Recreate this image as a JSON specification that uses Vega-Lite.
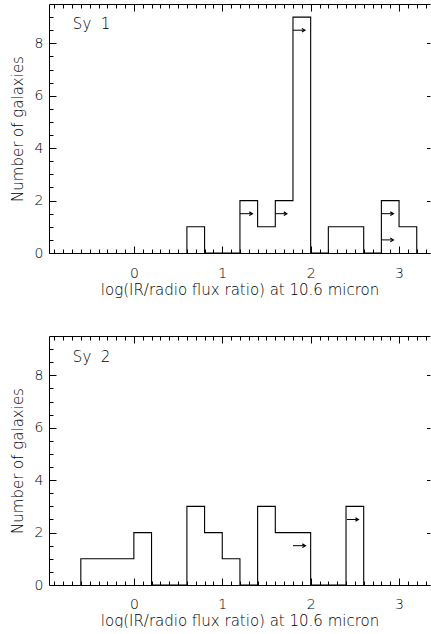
{
  "$schema": "https://vega.github.io/schema/vega-lite/v6.json",
  "padding": {"left": 10, "top": 3, "right": 0, "bottom": 0},
  "spacing": 83,
  "bounds": "flush",
  "datasets": {
    "hist1": [
      {"i": 0, "x": 0.6, "n": 0}, {"i": 1, "x": 0.6, "n": 1}, {"i": 2, "x": 0.8, "n": 0},
      {"i": 3, "x": 1.2, "n": 2}, {"i": 4, "x": 1.4, "n": 1}, {"i": 5, "x": 1.6, "n": 2},
      {"i": 6, "x": 1.8, "n": 9}, {"i": 7, "x": 2.0, "n": 0}, {"i": 8, "x": 2.2, "n": 1},
      {"i": 9, "x": 2.6, "n": 0}, {"i": 10, "x": 2.8, "n": 2}, {"i": 11, "x": 3.0, "n": 1},
      {"i": 12, "x": 3.2, "n": 0}
    ],
    "hist2": [
      {"i": 0, "x": -0.6, "n": 0}, {"i": 1, "x": -0.6, "n": 1}, {"i": 2, "x": 0.0, "n": 2},
      {"i": 3, "x": 0.2, "n": 0}, {"i": 4, "x": 0.6, "n": 3}, {"i": 5, "x": 0.8, "n": 2},
      {"i": 6, "x": 1.0, "n": 1}, {"i": 7, "x": 1.2, "n": 0}, {"i": 8, "x": 1.4, "n": 3},
      {"i": 9, "x": 1.6, "n": 2}, {"i": 10, "x": 2.0, "n": 0}, {"i": 11, "x": 2.4, "n": 3},
      {"i": 12, "x": 2.6, "n": 0}
    ],
    "arr1": [
      {"x": 1.2, "x2": 1.34, "y": 1.5}, {"x": 1.6, "x2": 1.73, "y": 1.5},
      {"x": 1.8, "x2": 1.935, "y": 8.5}, {"x": 2.8, "x2": 2.935, "y": 1.5},
      {"x": 2.8, "x2": 2.935, "y": 0.5}
    ],
    "arr2": [
      {"x": 1.8, "x2": 1.94, "y": 1.5}, {"x": 2.41, "x2": 2.54, "y": 2.5}
    ],
    "lab1": [{"label": "Sy\u00a0\u00a01", "x": -0.69, "y": 8.55}],
    "lab2": [{"label": "Sy\u00a0\u00a02", "x": -0.69, "y": 8.5}]
  },
  "vconcat": [
    {
      "width": 381, "height": 249,
      "layer": [
        {
          "data": {"name": "hist1"},
          "mark": {"type": "line", "interpolate": "step-after", "color": "black", "strokeWidth": 1.1},
          "encoding": {
            "order": {"field": "i", "type": "quantitative"},
            "x": {"field": "x", "type": "quantitative", "scale": {"domain": [-0.96, 3.35], "nice": false, "zero": false},
                  "axis": {"orient": "bottom", "values": [0, 1, 2, 3], "format": "d", "tickSize": -7, "labelPadding": 20, "title": "log(IR/radio flux ratio) at 10.6 micron", "titlePadding": 2}},
            "y": {"field": "n", "type": "quantitative", "scale": {"domain": [0, 9.5], "nice": false},
                  "axis": {"orient": "left", "values": [0, 2, 4, 6, 8], "format": "d", "tickSize": -7, "labelPadding": 13, "title": "Number of galaxies", "titlePadding": 9}}
          }
        },
        {
          "data": {"name": "hist1"},
          "mark": {"type": "line", "opacity": 0},
          "encoding": {
            "x": {"field": "x", "type": "quantitative", "axis": {"orient": "bottom", "values": [-0.9,-0.8,-0.7,-0.6,-0.5,-0.4,-0.3,-0.2,-0.1,0.1,0.2,0.3,0.4,0.5,0.6,0.7,0.8,0.9,1.1,1.2,1.3,1.4,1.5,1.6,1.7,1.8,1.9,2.1,2.2,2.3,2.4,2.5,2.6,2.7,2.8,2.9,3.1,3.2,3.3], "tickSize": -4, "labels": false, "domain": false, "title": null}},
            "y": {"field": "n", "type": "quantitative", "axis": {"orient": "left", "values": [0.5,1,1.5,2.5,3,3.5,4.5,5,5.5,6.5,7,7.5,8.5,9], "tickSize": -4, "labels": false, "domain": false, "title": null}}
          }
        },
        {
          "data": {"name": "hist1"},
          "mark": {"type": "line", "opacity": 0},
          "encoding": {
            "x": {"field": "x", "type": "quantitative", "axis": {"orient": "top", "values": [0, 1, 2, 3], "tickSize": -7, "labels": false, "title": null}},
            "y": {"field": "n", "type": "quantitative", "axis": {"orient": "right", "values": [0, 2, 4, 6, 8], "tickSize": -3.5, "labels": false, "domain": false, "title": null}}
          }
        },
        {
          "data": {"name": "hist1"},
          "mark": {"type": "line", "opacity": 0},
          "encoding": {
            "x": {"field": "x", "type": "quantitative", "axis": {"orient": "top", "values": [-0.9,-0.8,-0.7,-0.6,-0.5,-0.4,-0.3,-0.2,-0.1,0.1,0.2,0.3,0.4,0.5,0.6,0.7,0.8,0.9,1.1,1.2,1.3,1.4,1.5,1.6,1.7,1.8,1.9,2.1,2.2,2.3,2.4,2.5,2.6,2.7,2.8,2.9,3.1,3.2,3.3], "tickSize": -4, "labels": false, "domain": false, "title": null}},
            "y": {"field": "n", "type": "quantitative", "axis": null}
          }
        },
        {
          "data": {"name": "arr1"},
          "mark": {"type": "rule", "color": "black", "strokeWidth": 1},
          "encoding": {
            "x": {"field": "x", "type": "quantitative", "axis": null},
            "x2": {"field": "x2"},
            "y": {"field": "y", "type": "quantitative", "axis": null}
          }
        },
        {
          "data": {"name": "arr1"},
          "mark": {"type": "point", "shape": "M-1,-0.6L0,0L-1,0.6", "size": 36, "filled": false, "stroke": "black", "strokeWidth": 1.2, "opacity": 1},
          "encoding": {
            "x": {"field": "x2", "type": "quantitative", "axis": null},
            "y": {"field": "y", "type": "quantitative", "axis": null}
          }
        },
        {
          "data": {"name": "lab1"},
          "mark": {"type": "text", "align": "left", "baseline": "alphabetic", "fontSize": 15, "font": "DejaVu Sans", "fontWeight": 200, "color": "black"},
          "encoding": {
            "x": {"field": "x", "type": "quantitative", "axis": null},
            "y": {"field": "y", "type": "quantitative", "axis": null},
            "text": {"field": "label"}
          }
        }
      ],
      "resolve": {"axis": {"x": "independent", "y": "independent"}}
    },
    {
      "width": 381, "height": 249,
      "layer": [
        {
          "data": {"name": "hist2"},
          "mark": {"type": "line", "interpolate": "step-after", "color": "black", "strokeWidth": 1.1},
          "encoding": {
            "order": {"field": "i", "type": "quantitative"},
            "x": {"field": "x", "type": "quantitative", "scale": {"domain": [-0.96, 3.35], "nice": false, "zero": false},
                  "axis": {"orient": "bottom", "values": [0, 1, 2, 3], "format": "d", "tickSize": -7, "labelPadding": 19, "title": "log(IR/radio flux ratio) at 10.6 micron", "titlePadding": 2}},
            "y": {"field": "n", "type": "quantitative", "scale": {"domain": [0, 9.5], "nice": false},
                  "axis": {"orient": "left", "values": [0, 2, 4, 6, 8], "format": "d", "tickSize": -7, "labelPadding": 13, "title": "Number of galaxies", "titlePadding": 9}}
          }
        },
        {
          "data": {"name": "hist2"},
          "mark": {"type": "line", "opacity": 0},
          "encoding": {
            "x": {"field": "x", "type": "quantitative", "axis": {"orient": "bottom", "values": [-0.9,-0.8,-0.7,-0.6,-0.5,-0.4,-0.3,-0.2,-0.1,0.1,0.2,0.3,0.4,0.5,0.6,0.7,0.8,0.9,1.1,1.2,1.3,1.4,1.5,1.6,1.7,1.8,1.9,2.1,2.2,2.3,2.4,2.5,2.6,2.7,2.8,2.9,3.1,3.2,3.3], "tickSize": -4, "labels": false, "domain": false, "title": null}},
            "y": {"field": "n", "type": "quantitative", "axis": {"orient": "left", "values": [0.5,1,1.5,2.5,3,3.5,4.5,5,5.5,6.5,7,7.5,8.5,9], "tickSize": -4, "labels": false, "domain": false, "title": null}}
          }
        },
        {
          "data": {"name": "hist2"},
          "mark": {"type": "line", "opacity": 0},
          "encoding": {
            "x": {"field": "x", "type": "quantitative", "axis": {"orient": "top", "values": [0, 1, 2, 3], "tickSize": -7, "labels": false, "title": null}},
            "y": {"field": "n", "type": "quantitative", "axis": {"orient": "right", "values": [0, 2, 4, 6, 8], "tickSize": -3.5, "labels": false, "domain": false, "title": null}}
          }
        },
        {
          "data": {"name": "hist2"},
          "mark": {"type": "line", "opacity": 0},
          "encoding": {
            "x": {"field": "x", "type": "quantitative", "axis": {"orient": "top", "values": [-0.9,-0.8,-0.7,-0.6,-0.5,-0.4,-0.3,-0.2,-0.1,0.1,0.2,0.3,0.4,0.5,0.6,0.7,0.8,0.9,1.1,1.2,1.3,1.4,1.5,1.6,1.7,1.8,1.9,2.1,2.2,2.3,2.4,2.5,2.6,2.7,2.8,2.9,3.1,3.2,3.3], "tickSize": -4, "labels": false, "domain": false, "title": null}},
            "y": {"field": "n", "type": "quantitative", "axis": null}
          }
        },
        {
          "data": {"name": "arr2"},
          "mark": {"type": "rule", "color": "black", "strokeWidth": 1},
          "encoding": {
            "x": {"field": "x", "type": "quantitative", "axis": null},
            "x2": {"field": "x2"},
            "y": {"field": "y", "type": "quantitative", "axis": null}
          }
        },
        {
          "data": {"name": "arr2"},
          "mark": {"type": "point", "shape": "M-1,-0.6L0,0L-1,0.6", "size": 36, "filled": false, "stroke": "black", "strokeWidth": 1.2, "opacity": 1},
          "encoding": {
            "x": {"field": "x2", "type": "quantitative", "axis": null},
            "y": {"field": "y", "type": "quantitative", "axis": null}
          }
        },
        {
          "data": {"name": "lab2"},
          "mark": {"type": "text", "align": "left", "baseline": "alphabetic", "fontSize": 15, "font": "DejaVu Sans", "fontWeight": 200, "color": "black"},
          "encoding": {
            "x": {"field": "x", "type": "quantitative", "axis": null},
            "y": {"field": "y", "type": "quantitative", "axis": null},
            "text": {"field": "label"}
          }
        }
      ],
      "resolve": {"axis": {"x": "independent", "y": "independent"}}
    }
  ],
  "config": {
    "view": {"stroke": null},
    "axis": {"grid": false, "domainColor": "black", "tickColor": "black", "labelColor": "black", "titleColor": "black",
             "labelFont": "DejaVu Sans", "titleFont": "DejaVu Sans", "labelFontSize": 14, "titleFontSize": 15, "labelFontWeight": 200, "titleFontWeight": 200, "domainWidth": 1, "tickWidth": 1}
  }
}
